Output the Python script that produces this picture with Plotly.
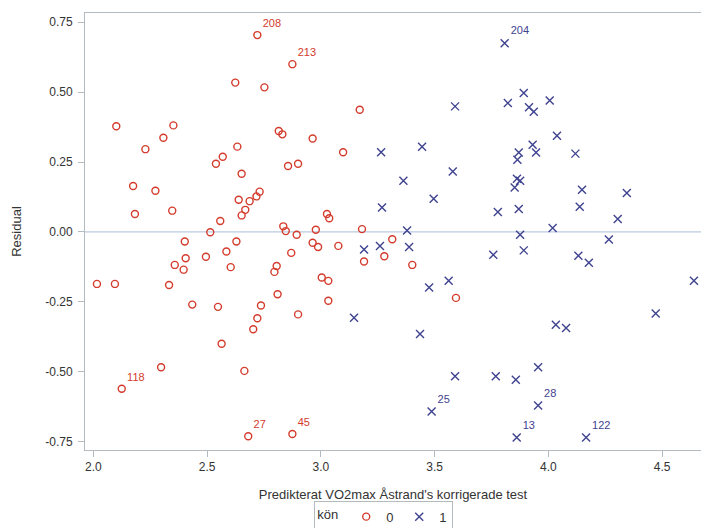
import plotly.graph_objects as go

# kön = 0
x0 = [2.016, 2.095, 2.101, 2.125, 2.175, 2.183, 2.229, 2.273, 2.298, 2.308,
      2.333, 2.347, 2.352, 2.358, 2.397, 2.402, 2.406, 2.435, 2.495, 2.514,
      2.539, 2.548, 2.558, 2.564, 2.569, 2.585, 2.604, 2.624, 2.629, 2.633,
      2.639, 2.652, 2.652, 2.664, 2.668, 2.681, 2.687, 2.703, 2.717, 2.721,
      2.721, 2.731, 2.737, 2.752, 2.796, 2.806, 2.810, 2.815, 2.831, 2.835,
      2.846, 2.856, 2.870, 2.875, 2.875, 2.894, 2.900, 2.900, 2.964, 2.964,
      2.978, 2.988, 3.004, 3.027, 3.033, 3.033, 3.037, 3.077, 3.098, 3.171,
      3.181, 3.190, 3.279, 3.314, 3.402, 3.594]
y0 = [-0.186, -0.186, 0.378, -0.561, 0.164, 0.064, 0.296, 0.147, -0.484, 0.337,
      -0.190, 0.076, 0.381, -0.118, -0.135, -0.034, -0.094, -0.260, -0.089, -0.001,
      0.244, -0.268, 0.039, -0.400, 0.269, -0.070, -0.126, 0.534, -0.034, 0.305,
      0.115, 0.208, 0.059, -0.497, 0.079, -0.731, 0.110, -0.348, 0.127, 0.704,
      -0.309, 0.144, -0.263, 0.517, -0.143, -0.122, -0.223, 0.361, 0.349, 0.020,
      0.003, 0.236, -0.075, 0.600, -0.723, -0.010, 0.244, -0.295, 0.334, -0.039,
      0.008, -0.054, -0.163, 0.064, -0.175, -0.246, 0.049, -0.050, 0.285, 0.437,
      0.010, -0.106, -0.087, -0.026, -0.118, -0.236]
lab0 = [""] * len(x0)
lab0[3] = "118"
lab0[35] = "27"
lab0[39] = "208"
lab0[53] = "213"
lab0[54] = "45"

# kön = 1
x1 = [3.146, 3.190, 3.260, 3.265, 3.269, 3.363, 3.379, 3.388, 3.436, 3.445,
      3.476, 3.487, 3.496, 3.562, 3.580, 3.590, 3.590, 3.758, 3.769, 3.778,
      3.808, 3.822, 3.852, 3.857, 3.861, 3.862, 3.864, 3.870, 3.870, 3.876,
      3.876, 3.892, 3.892, 3.915, 3.931, 3.936, 3.946, 3.955, 3.955, 4.006,
      4.019, 4.033, 4.038, 4.078, 4.119, 4.132, 4.138, 4.148, 4.166, 4.178,
      4.266, 4.305, 4.345, 4.472, 4.640]
y1 = [-0.307, -0.063, -0.050, 0.285, 0.087, 0.183, 0.005, -0.054, -0.365, 0.305,
      -0.199, -0.642, 0.119, -0.175, 0.216, 0.449, -0.516, -0.082, -0.516, 0.071,
      0.675, 0.461, 0.159, -0.529, -0.735, 0.190, 0.258, 0.284, 0.082, 0.183,
      -0.010, 0.497, -0.066, 0.446, 0.312, 0.430, 0.284, -0.484, -0.621, 0.470,
      0.014, -0.332, 0.344, -0.344, 0.280, -0.085, 0.090, 0.151, -0.735, -0.110,
      -0.027, 0.046, 0.139, -0.292, -0.175]
lab1 = [""] * len(x1)
lab1[11] = "25"
lab1[20] = "204"
lab1[24] = "13"
lab1[38] = "28"
lab1[48] = "122"

x_ticks = [2.0, 2.5, 3.0, 3.5, 4.0, 4.5]
y_ticks = [-0.75, -0.50, -0.25, 0.00, 0.25, 0.50, 0.75]

RED = "#D43B2C"
BLUE = "#3F438F"
FONT = "Liberation Sans, Arial, sans-serif"
FRAME = "#B4BBC0"
TXT = "#333333"

fig = go.Figure()
fig.add_trace(go.Scatter(
    x=x0, y=y0, mode="markers+text", name="0", text=lab0,
    textposition="top right", textfont=dict(color=RED, size=11, family=FONT),
    marker=dict(symbol="circle-open", size=7, color=RED, line=dict(width=1.4)),
))
fig.add_trace(go.Scatter(
    x=x1, y=y1, mode="markers+text", name="1", text=lab1,
    textposition="top right", textfont=dict(color=BLUE, size=11, family=FONT),
    marker=dict(symbol="x-thin-open", size=8, color=BLUE, line=dict(width=1.4, color=BLUE)),
))

fig.add_hline(y=0, line=dict(color="#A9BDD9", width=1), layer="below")

axis_common = dict(
    showgrid=False, zeroline=False, showline=True, linecolor=FRAME, linewidth=1,
    mirror=True, ticks="outside", ticklen=6, tickcolor=FRAME, tickwidth=1,
    tickfont=dict(family=FONT, size=12, color=TXT),
)

fig.update_layout(
    width=701, height=528,
    margin=dict(l=85, r=0, t=13, b=78, autoexpand=False),
    paper_bgcolor="white", plot_bgcolor="white",
    font=dict(family=FONT, size=12, color=TXT),
    xaxis=dict(
        range=[1.9635, 4.671], tickvals=x_ticks,
        ticktext=[f"{v:.1f}" for v in x_ticks],
        title=dict(text="Predikterat VO2max Åstrand's korrigerade test",
                   font=dict(family=FONT, size=13, color=TXT), standoff=16),
        **axis_common,
    ),
    yaxis=dict(
        range=[-0.780, 0.783], tickvals=y_ticks,
        ticktext=[f"{v:.2f}" for v in y_ticks],
        ticklabelstandoff=3,
        title=dict(text="Residual", font=dict(family=FONT, size=13, color=TXT),
                   standoff=20),
        **axis_common,
    ),
    showlegend=True,
    legend=dict(
        orientation="h", x=0.485, xanchor="center", y=-0.116, yanchor="top",
        bordercolor=FRAME, borderwidth=1, bgcolor="white",
        title=dict(text="kön", side="left", font=dict(family=FONT, size=13, color=TXT)),
        font=dict(family=FONT, size=13, color=TXT),
        itemwidth=30, entrywidth=8, entrywidthmode="pixels", tracegroupgap=0,
    ),
)

fig.write_html("out.html")
